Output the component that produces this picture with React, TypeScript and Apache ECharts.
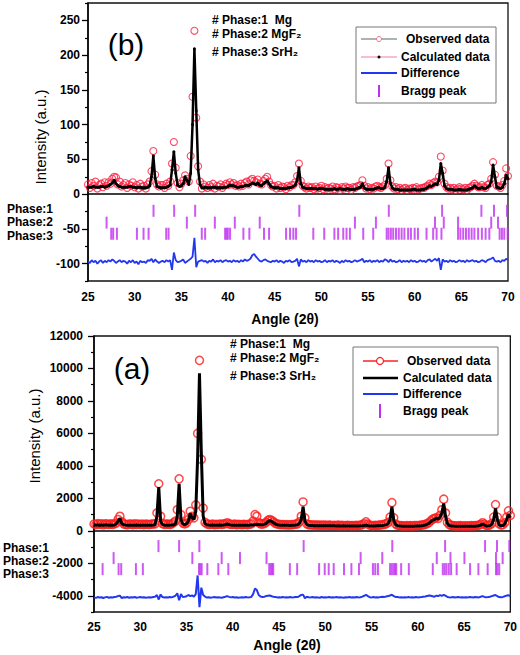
import React, { useEffect, useRef } from 'react';
import * as echarts from 'echarts';

// ---------- sampling grid (2θ, degrees) ----------
const START_ANGLE = 25;
const STEP_ANGLE = 0.2;

// ---------- panel (b) ----------
const obsB = [
  14, 9, 16, 12, 18, 8, 13, 15, 10, 17,
  12, 17, 15, 22, 25, 24, 14, 18, 11, 13,
  16, 9, 14, 12, 17, 10, 13, 8, 15, 11,
  12, 8, 14, 18, 33, 62, 28, 14, 11, 13,
  13, 9, 15, 12, 18, 44, 75, 38, 16, 10,
  15, 20, 27, 22, 18, 55, 140, 235, 110, 40,
  18, 8, 14, 11, 9, 13, 10, 15, 8, 12,
  11, 14, 9, 12, 15, 13, 17, 14, 16, 12,
  13, 11, 15, 12, 16, 18, 14, 20, 22, 19,
  17, 21, 15, 14, 19, 22, 25, 18, 13, 11,
  12, 8, 13, 9, 11, 10, 7, 12, 10, 13,
  13, 17, 26, 44, 19, 12, 10, 8, 11, 9,
  10, 7, 11, 8, 9, 12, 7, 10, 8, 9,
  8, 11, 7, 10, 9, 6, 10, 8, 11, 9,
  9, 6, 10, 9, 11, 12, 13, 20, 12, 8,
  10, 7, 9, 8, 11, 12, 10, 9, 11, 13,
  22, 44, 20, 11, 8, 10, 7, 9, 6, 8,
  9, 6, 8, 7, 9, 8, 10, 7, 8, 9,
  9, 11, 12, 15, 13, 16, 18, 17, 25, 54,
  34, 15, 10, 8, 9, 7, 9, 6, 8, 10,
  8, 7, 9, 6, 9, 10, 12, 15, 12, 10,
  10, 13, 10, 9, 13, 15, 22, 46, 28, 12,
  11, 9, 13, 19, 37, 26,
];
const calcB = [
  10, 10, 10, 11, 10, 10, 10, 11, 11, 10,
  11, 12, 14, 16, 20, 15, 12, 11, 10, 10,
  10, 10, 11, 11, 10, 10, 9, 10, 10, 9,
  9, 9, 10, 12, 25, 55, 22, 11, 10, 9,
  9, 9, 10, 11, 13, 35, 61, 30, 13, 11,
  12, 15, 25, 20, 14, 30, 100, 209, 120, 35,
  14, 9, 9, 10, 9, 9, 9, 10, 10, 9,
  9, 9, 9, 10, 10, 11, 13, 12, 12, 11,
  10, 10, 11, 11, 12, 13, 12, 14, 16, 15,
  14, 16, 13, 12, 15, 17, 19, 15, 11, 10,
  9, 9, 9, 8, 8, 8, 8, 9, 9, 10,
  11, 13, 20, 38, 15, 10, 9, 8, 8, 8,
  8, 8, 8, 7, 8, 8, 8, 7, 7, 7,
  7, 7, 8, 7, 7, 8, 7, 7, 7, 8,
  7, 7, 7, 7, 8, 9, 10, 15, 9, 7,
  7, 7, 7, 7, 8, 9, 9, 8, 8, 10,
  18, 38, 16, 9, 7, 7, 7, 6, 6, 6,
  6, 6, 6, 6, 7, 7, 6, 6, 6, 7,
  7, 8, 10, 12, 11, 13, 15, 14, 20, 44,
  30, 12, 8, 7, 7, 7, 6, 6, 6, 7,
  6, 6, 6, 6, 7, 8, 9, 12, 10, 8,
  8, 10, 8, 8, 10, 12, 18, 42, 25, 10,
  9, 8, 10, 15, 27, 22,
];
const diffB = [
  -97, -99, -95, -98, -96, -100, -97, -95, -99, -96,
  -98, -95, -97, -94, -96, -99, -97, -95, -98, -96,
  -97, -100, -96, -98, -95, -99, -97, -101, -96, -98,
  -97, -99, -95, -96, -93, -98, -94, -97, -99, -97,
  -96, -98, -95, -97, -95, -109, -84, -95, -98, -97,
  -96, -94, -99, -97, -95, -93, -90, -63, -105, -97,
  -96, -95, -97, -96, -99, -96, -97, -94, -98, -96,
  -97, -95, -98, -96, -95, -97, -96, -98, -95, -97,
  -96, -98, -95, -97, -94, -96, -95, -93, -88, -86,
  -90, -93, -96, -97, -95, -94, -96, -97, -98, -96,
  -97, -95, -98, -96, -97, -99, -96, -97, -95, -98,
  -97, -96, -93, -104, -94, -97, -96, -98, -95, -97,
  -96, -98, -95, -97, -96, -98, -97, -95, -98, -96,
  -97, -95, -98, -96, -97, -99, -96, -98, -95, -97,
  -96, -98, -97, -95, -97, -96, -95, -93, -98, -96,
  -97, -95, -98, -96, -97, -95, -98, -96, -97, -94,
  -95, -98, -94, -97, -96, -98, -97, -95, -98, -96,
  -97, -96, -98, -95, -97, -96, -98, -97, -95, -97,
  -96, -98, -95, -94, -97, -95, -93, -96, -92, -109,
  -94, -97, -96, -98, -95, -97, -96, -98, -97, -95,
  -97, -96, -98, -95, -97, -96, -95, -97, -96, -98,
  -97, -95, -96, -98, -95, -94, -93, -91, -96, -97,
  -96, -98, -95, -96, -93, -95,
];
const braggB1 = [32.02, 34.23, 36.48, 47.64, 57.23, 62.94, 67.15, 68.5, 69.89];
const braggB2 = [26.99, 35.59, 38.59, 40.73, 43.4, 53.6, 55.85, 62.18, 63.12, 64.65, 68.2, 68.93];
const braggB3 = [
  27.49, 27.7, 28.1, 30.24, 30.95, 31.49, 33.38, 33.63, 37.19, 37.55, 39.69, 39.85, 39.98, 40.22,
  41.65, 42.29, 43.86, 44.4, 46.22, 46.65, 47.0, 47.29, 49.14, 50.31, 51.4, 51.8, 52.35, 52.7,
  53.06, 54.49, 55.56, 57.0, 57.2, 57.45, 57.7, 58.0, 58.3, 58.6, 58.9, 59.3, 59.6, 60.0, 60.35,
  61.27, 61.98, 62.35, 62.87, 64.65, 64.9, 65.2, 65.5, 65.8, 66.1, 66.4, 66.8, 67.2, 67.6, 68.0,
  69.1, 69.35, 69.6, 69.96,
];

// ---------- panel (a) ----------
const obsA = [
  420, 380, 450, 400, 430, 370, 440, 410, 390, 430,
  400, 420, 480, 700, 900, 560, 430, 400, 380, 420,
  410, 380, 430, 400, 420, 390, 410, 380, 420, 400,
  390, 410, 420, 430, 1100, 2900, 900, 450, 400, 420,
  410, 390, 420, 500, 600, 1300, 3200, 1000, 480, 430,
  480, 700, 1200, 900, 800, 1600, 6000, 10500, 4400, 1400,
  520, 420, 400, 390, 410, 380, 400, 390, 420, 400,
  410, 440, 500, 430, 400, 390, 410, 380, 400, 390,
  380, 400, 390, 380, 410, 430, 600, 1000, 900, 500,
  430, 410, 450, 520, 650, 700, 640, 560, 460, 420,
  400, 380, 390, 370, 380, 360, 370, 380, 390, 410,
  430, 550, 900, 1780, 800, 420, 380, 370, 360, 350,
  360, 350, 340, 360, 340, 350, 330, 350, 340, 330,
  340, 330, 350, 320, 340, 330, 320, 340, 330, 320,
  330, 320, 340, 330, 350, 380, 440, 550, 420, 350,
  330, 320, 340, 330, 350, 360, 380, 400, 440, 520,
  850, 1740, 800, 420, 350, 330, 320, 310, 300, 320,
  310, 320, 300, 320, 330, 320, 340, 350, 370, 400,
  440, 500, 620, 720, 760, 820, 760, 950, 1300, 1950,
  1100, 520, 380, 340, 320, 310, 300, 310, 320, 300,
  300, 310, 300, 310, 320, 310, 320, 330, 350, 400,
  500, 420, 340, 330, 360, 460, 850, 1620, 850, 420,
  360, 380, 500, 850, 1230, 950,
];
const calcA = [
  360, 355, 360, 350, 355, 350, 360, 355, 350, 355,
  350, 360, 420, 600, 760, 450, 370, 355, 350, 350,
  350, 345, 350, 355, 350, 345, 350, 345, 350, 345,
  345, 350, 360, 380, 900, 2700, 600, 380, 355, 350,
  350, 350, 355, 365, 420, 900, 2900, 700, 420, 380,
  420, 600, 1070, 800, 700, 1200, 4500, 9700, 4800, 900,
  450, 380, 360, 350, 355, 350, 345, 350, 355, 350,
  355, 380, 420, 380, 355, 350, 345, 350, 345, 350,
  345, 350, 345, 340, 350, 355, 360, 380, 400, 390,
  380, 370, 400, 450, 580, 620, 580, 500, 420, 380,
  360, 350, 345, 340, 345, 340, 335, 340, 345, 360,
  380, 450, 700, 1480, 600, 380, 340, 330, 325, 320,
  320, 315, 320, 315, 310, 315, 310, 305, 310, 305,
  305, 300, 305, 300, 300, 305, 300, 295, 300, 300,
  295, 300, 295, 300, 305, 315, 330, 350, 320, 300,
  300, 295, 300, 305, 310, 320, 330, 350, 380, 450,
  700, 1480, 650, 380, 320, 300, 290, 285, 280, 285,
  280, 285, 280, 285, 290, 295, 300, 310, 330, 360,
  400, 460, 560, 650, 700, 780, 720, 850, 1100, 1680,
  900, 450, 330, 300, 290, 285, 280, 280, 285, 280,
  280, 275, 280, 275, 280, 285, 280, 290, 310, 350,
  420, 360, 300, 290, 320, 400, 700, 1370, 700, 360,
  320, 330, 420, 700, 1000, 800,
];
const diffA = [
  -4100, -4130, -4080, -4110, -4090, -4140, -4100, -4070, -4120, -4090,
  -4110, -4080, -4060, -4020, -3990, -4140, -4090, -4110, -4080, -4120,
  -4090, -4110, -4080, -4120, -4100, -4080, -4110, -4090, -4120, -4100,
  -4090, -4110, -4080, -4060, -3960, -4230, -3920, -4080, -4110, -4090,
  -4110, -4080, -4100, -4050, -4000, -3850, -4280, -3900, -4080, -4060,
  -4030, -3950, -4020, -3980, -4050, -3900, -2750, -4700, -3500, -3950,
  -4050, -4110, -4090, -4120, -4100, -4080, -4110, -4090, -4100, -4120,
  -4090, -4060, -4020, -4070, -4100, -4080, -4110, -4090, -4120, -4100,
  -4090, -4110, -4080, -4100, -4090, -4070, -3900, -3550, -3650, -3950,
  -4050, -4080, -4060, -4020, -4000, -3980, -4030, -4060, -4080, -4100,
  -4090, -4110, -4080, -4100, -4090, -4110, -4080, -4100, -4090, -4070,
  -4080, -4020, -3950, -3930, -4150, -4060, -4090, -4100, -4080, -4110,
  -4090, -4100, -4120, -4080, -4110, -4090, -4100, -4080, -4110, -4090,
  -4100, -4080, -4110, -4090, -4100, -4120, -4090, -4100, -4080, -4110,
  -4090, -4110, -4080, -4100, -4090, -4050, -4000, -3940, -4020, -4090,
  -4100, -4080, -4110, -4090, -4100, -4080, -4060, -4070, -4040, -4020,
  -3980, -3940, -4020, -4070, -4080, -4100, -4090, -4110, -4090, -4100,
  -4080, -4100, -4090, -4110, -4080, -4100, -4090, -4080, -4060, -4050,
  -4020, -3980, -4000, -4030, -4060, -3990, -4020, -3960, -4010, -3950,
  -4000, -4070, -4090, -4100, -4080, -4110, -4090, -4080, -4100, -4090,
  -4110, -4090, -4100, -4080, -4090, -4110, -4080, -4090, -4100, -4060,
  -4020, -4070, -4090, -4080, -4060, -4020, -3980, -3950, -4030, -4080,
  -4090, -4070, -4030, -3990, -3970, -4020,
];
const braggA1 = [31.97, 34.2, 36.39, 47.66, 57.24, 62.95, 67.27, 68.56, 69.89];
const braggA2 = [27.12, 35.63, 38.8, 40.78, 43.65, 53.82, 56.16, 62.05, 63.53, 65.04, 68.45, 69.17];
const braggA3 = [
  25.93, 27.66, 27.94, 29.53, 30.28, 36.35, 36.5, 36.64, 37.25, 38.44, 39.52, 43.94, 44.1, 44.25,
  44.37, 46.17, 46.96, 49.33, 49.94, 50.37, 50.91, 52.02, 52.82, 53.64, 55.15, 55.4, 55.69, 57.0,
  57.2, 57.4, 57.55, 57.67, 58.2, 59.03, 61.62, 62.7, 62.9, 63.1, 63.35, 63.6, 64.2, 65.65, 66.55,
  67.55, 68.45, 68.6, 68.8,
];

// ---------- axis ticks ----------
const xTickValues = [25, 30, 35, 40, 45, 50, 55, 60, 65, 70];
const yMajorB = [-100, -50, 0, 50, 100, 150, 200, 250];
const yMinorB = [-125, -75, -25, 25, 75, 125, 175, 225, 275];
const yMajorA = [-4000, -2000, 0, 2000, 4000, 6000, 8000, 10000, 12000];
const yMinorA = [-5000, -3000, -1000, 1000, 3000, 5000, 7000, 9000, 11000];

// ---------- texts ----------
const legendLabels = ['Observed data', 'Calculated data', 'Difference', 'Bragg peak'];
const phaseLabels = ['Phase:1', 'Phase:2', 'Phase:3'];
const phaseNotesB = ['# Phase:1  Mg', '# Phase:2 MgF\u2082', '# Phase:3 SrH\u2082'];
const phaseNotesA = ['# Phase:1  Mg', '# Phase:2 MgF\u2082', '# Phase:3 SrH\u2082'];
const xTitle = 'Angle (2\u03b8)';
const yTitle = 'Intensity (a.u.)';

const FONT = '"Liberation Sans", Arial, "DejaVu Sans", sans-serif';
const BRAGG = '#c030f0';
const BLUE = '#2238f0';

const toPairs = (vals: number[]) =>
  vals.map((v, i) => [Number((START_ANGLE + i * STEP_ANGLE).toFixed(2)), v]);
const braggPairs = (pos: number[], row: number) => pos.map((p) => [p, row]);

function text(x: number, y: number, t: string, font: string, align = 'left', extra: any = {}, lineHeight?: number) {
  const style: any = { text: t, font, fill: '#000', align, verticalAlign: 'middle' };
  if (lineHeight) style.lineHeight = lineHeight;
  return { type: 'text', x, y, z: 100, ...extra, style };
}

export default function App() {
  const ref = useRef<HTMLDivElement>(null);

  useEffect(() => {
    if (!ref.current) return;
    const chart = echarts.init(ref.current, undefined, { renderer: 'svg' });

    const xAxisBase = (gridIndex: number, margin: number) => ({
      type: 'value',
      gridIndex,
      min: 25,
      max: 70,
      interval: 5,
      axisLine: { show: true, lineStyle: { color: '#000', width: 1.5 } },
      axisTick: { show: false },
      splitLine: { show: false },
      axisLabel: {
        color: '#000',
        fontFamily: FONT,
        fontWeight: 'bold',
        fontSize: 12,
        margin,
        customValues: xTickValues,
        formatter: (v: number) => String(v),
      },
    });

    const yMajor = (gridIndex: number, min: number, max: number, vals: number[], margin: number) => ({
      type: 'value',
      gridIndex,
      min,
      max,
      position: 'left',
      axisLine: { show: true, onZero: false, lineStyle: { color: '#000', width: 1.5 } },
      axisTick: { show: true, inside: false, length: 6, customValues: vals, lineStyle: { color: '#000', width: 1.3 } },
      splitLine: { show: false },
      axisLabel: {
        color: '#000',
        fontFamily: FONT,
        fontWeight: 'bold',
        fontSize: 12,
        margin,
        customValues: vals,
        formatter: (v: number) => String(v),
      },
    });
    const yMinor = (gridIndex: number, min: number, max: number, vals: number[]) => ({
      type: 'value',
      gridIndex,
      min,
      max,
      position: 'left',
      axisLine: { show: false },
      axisTick: { show: true, inside: false, length: 3, customValues: vals, lineStyle: { color: '#000', width: 1.2 } },
      splitLine: { show: false },
      axisLabel: { show: false },
    });

    const graphic: any[] = [];
    // panel titles
    graphic.push(text(126, 44, '(b)', `30px ${FONT}`, 'center'));
    graphic.push(text(132, 368, '(a)', `30px ${FONT}`, 'center'));
    graphic.push(text(285, 319, xTitle, `bold 14px ${FONT}`, 'center'));
    graphic.push(text(287, 645, xTitle, `bold 14px ${FONT}`, 'center'));
    graphic.push(text(40, 137, yTitle, `15px ${FONT}`, 'center', { rotation: Math.PI / 2 }));
    graphic.push(text(34, 436, yTitle, `15px ${FONT}`, 'center', { rotation: Math.PI / 2 }));
    // phase notes
    [20, 34, 52].forEach((y, i) => graphic.push(text(212, y, phaseNotesB[i], `bold 12px ${FONT}`)));
    [344, 358, 376].forEach((y, i) => graphic.push(text(230, y, phaseNotesA[i], `bold 12px ${FONT}`)));
    // phase row labels
    [209, 222, 236].forEach((y, i) => graphic.push(text(7, y, phaseLabels[i], `bold 12px ${FONT}`, 'left', {}, 12)));
    [548, 561, 574].forEach((y, i) => graphic.push(text(3, y, phaseLabels[i], `bold 12px ${FONT}`, 'left', {}, 12)));

    // legend (b)
    graphic.push({
      type: 'rect', z: 90,
      shape: { x: 356, y: 27, width: 140, height: 76 },
      style: { fill: '#fff', stroke: '#777', lineWidth: 1 },
    });
    const lbY = [39, 57, 73, 91];
    graphic.push({ type: 'line', z: 100, shape: { x1: 361, y1: lbY[0], x2: 397, y2: lbY[0] }, style: { stroke: '#5b6b62', lineWidth: 1.2 } });
    graphic.push({ type: 'circle', z: 101, shape: { cx: 379, cy: lbY[0], r: 2.5 }, style: { fill: '#fff', stroke: '#f07090', lineWidth: 1 } });
    graphic.push({ type: 'line', z: 100, shape: { x1: 361, y1: lbY[1], x2: 397, y2: lbY[1] }, style: { stroke: '#f0809a', lineWidth: 1.2 } });
    graphic.push({ type: 'circle', z: 101, shape: { cx: 379, cy: lbY[1], r: 1.5 }, style: { fill: '#000' } });
    graphic.push({ type: 'line', z: 100, shape: { x1: 361, y1: lbY[2], x2: 397, y2: lbY[2] }, style: { stroke: BLUE, lineWidth: 2 } });
    graphic.push({ type: 'line', z: 100, shape: { x1: 379, y1: lbY[3] - 6, x2: 379, y2: lbY[3] + 6 }, style: { stroke: BRAGG, lineWidth: 2 } });
    legendLabels.forEach((l, i) => graphic.push(text(i === 0 ? 406 : 401, lbY[i], l, `bold 12px ${FONT}`)));

    // legend (a)
    graphic.push({
      type: 'rect', z: 90,
      shape: { x: 353, y: 347, width: 145, height: 88 },
      style: { fill: '#fff', stroke: '#777', lineWidth: 1 },
    });
    const laY = [361, 378, 394, 411];
    graphic.push({ type: 'line', z: 100, shape: { x1: 363, y1: laY[0], x2: 398, y2: laY[0] }, style: { stroke: '#ff2020', lineWidth: 1.5 } });
    graphic.push({ type: 'circle', z: 101, shape: { cx: 380, cy: laY[0], r: 3.5 }, style: { fill: '#fff', stroke: '#ff2020', lineWidth: 1.2 } });
    graphic.push({ type: 'line', z: 100, shape: { x1: 363, y1: laY[1], x2: 398, y2: laY[1] }, style: { stroke: '#000', lineWidth: 2.5 } });
    graphic.push({ type: 'line', z: 100, shape: { x1: 363, y1: laY[2], x2: 398, y2: laY[2] }, style: { stroke: BLUE, lineWidth: 2 } });
    graphic.push({ type: 'line', z: 100, shape: { x1: 380, y1: laY[3] - 7, x2: 380, y2: laY[3] + 7 }, style: { stroke: BRAGG, lineWidth: 2 } });
    legendLabels.forEach((l, i) => graphic.push(text(i === 0 ? 407 : 403, laY[i], l, `bold 12px ${FONT}`)));

    const braggSeries = (xi: number, yi: number, data: number[][]) => ({
      type: 'scatter',
      xAxisIndex: xi,
      yAxisIndex: yi,
      symbol: 'rect',
      symbolSize: [2, 12],
      itemStyle: { color: BRAGG },
      data,
      z: 3,
    });

    chart.setOption({
      animation: false,
      textStyle: { fontFamily: FONT },
      grid: [
        { left: 88, top: 3, width: 420, height: 278, show: true, borderColor: '#111', borderWidth: 1.3, backgroundColor: 'transparent' },
        { left: 94, top: 336, width: 417, height: 276, show: true, borderColor: '#111', borderWidth: 1.3, backgroundColor: 'transparent' },
      ],
      xAxis: [xAxisBase(0, 10), xAxisBase(1, 9)],
      yAxis: [
        yMajor(0, -125, 275, yMajorB, 8),
        yMajor(1, -5000, 12000, yMajorA, 11),
        yMinor(0, -125, 275, yMinorB),
        yMinor(1, -5000, 12000, yMinorA),
      ],
      graphic,
      series: [
        // panel (b)
        {
          type: 'scatter', xAxisIndex: 0, yAxisIndex: 0, symbol: 'circle', symbolSize: 7,
          itemStyle: { color: 'rgba(255,255,255,0)', borderColor: '#ff1a3c', borderWidth: 1.1 },
          data: toPairs(obsB), z: 2,
        },
        {
          type: 'line', xAxisIndex: 0, yAxisIndex: 0, showSymbol: true, showAllSymbol: true,
          symbol: 'circle', symbolSize: 3, itemStyle: { color: '#000' },
          lineStyle: { color: '#000', width: 2.5 }, data: toPairs(calcB), z: 4,
        },
        {
          type: 'line', xAxisIndex: 0, yAxisIndex: 0, showSymbol: false,
          lineStyle: { color: BLUE, width: 1.8 }, data: toPairs(diffB), z: 4,
        },
        braggSeries(0, 0, braggPairs(braggB1, -24)),
        braggSeries(0, 0, braggPairs(braggB2, -41)),
        braggSeries(0, 0, braggPairs(braggB3, -57)),
        // panel (a)
        {
          type: 'scatter', xAxisIndex: 1, yAxisIndex: 1, symbol: 'circle', symbolSize: 8,
          itemStyle: { color: 'rgba(255,255,255,0)', borderColor: '#ff1a1a', borderWidth: 1.5 },
          data: toPairs(obsA), z: 2,
        },
        {
          type: 'line', xAxisIndex: 1, yAxisIndex: 1, showSymbol: false,
          lineStyle: { color: '#000', width: 3 }, data: toPairs(calcA), z: 4,
        },
        {
          type: 'line', xAxisIndex: 1, yAxisIndex: 1, showSymbol: false,
          lineStyle: { color: BLUE, width: 2 }, data: toPairs(diffA), z: 4,
        },
        braggSeries(1, 1, braggPairs(braggA1, -940)),
        braggSeries(1, 1, braggPairs(braggA2, -1680)),
        braggSeries(1, 1, braggPairs(braggA3, -2360)),
      ],
    });

    return () => chart.dispose();
  }, []);

  return (
    <div
      ref={ref}
      style={{ position: 'absolute', left: 0, top: 0, width: 520, height: 655, background: '#fff' }}
    />
  );
}
